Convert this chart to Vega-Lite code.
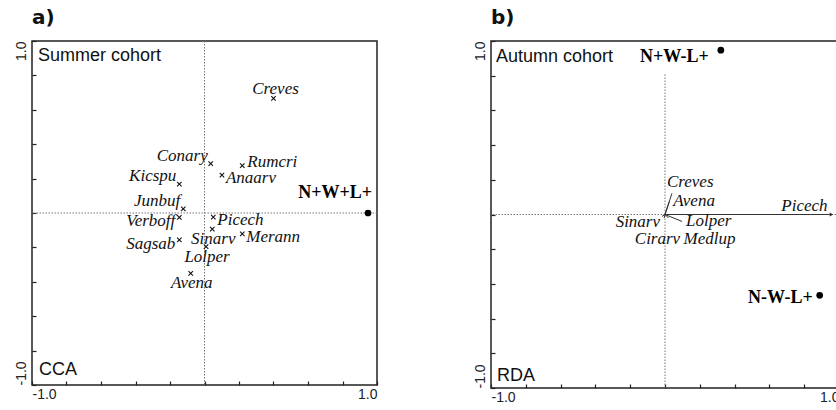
{
  "$schema": "https://vega.github.io/schema/vega-lite/v6.json",
  "background": "white",
  "padding": {"left": 13, "top": 7, "right": 0, "bottom": 0},
  "spacing": 93,
  "config": {
    "view": {"stroke": "#222", "strokeWidth": 1.5},
    "axis": {
      "grid": false, "domain": false, "title": null,
      "values": [-1, -0.5, 0, 0.5, 1],
      "labelExpr": "datum.value == 1 ? '1.0' : (datum.value == -1 ? '-1.0' : '')",
      "tickSize": -4, "tickColor": "#222", "tickWidth": 1.2,
      "labelFont": "Liberation Sans", "labelFontSize": 14, "labelColor": "#222",
      "labelOverlap": false
    },
    "axisX": {"labelFlush": true, "labelPadding": 6},
    "axisY": {
      "labelAngle": -90, "labelPadding": 8, "labelBaseline": "bottom",
      "labelAlign": {"condition": {"test": "datum.value > 0", "value": "right"}, "value": "left"}
    },
    "title": {"anchor": "start", "frame": "group", "font": "DejaVu Sans", "fontSize": 20, "fontWeight": "bold", "offset": 12, "color": "#111"}
  },
  "datasets": {
    "a": [
      {"name": "Creves", "x": 0.40, "y": 0.666, "type": "species"},
      {"name": "Conary", "x": 0.036, "y": 0.287, "type": "species"},
      {"name": "Rumcri", "x": 0.219, "y": 0.275, "type": "species"},
      {"name": "Anaarv", "x": 0.101, "y": 0.220, "type": "species"},
      {"name": "Kicspu", "x": -0.146, "y": 0.168, "type": "species"},
      {"name": "Junbuf", "x": -0.123, "y": 0.024, "type": "species"},
      {"name": "Verboff", "x": -0.146, "y": -0.026, "type": "species"},
      {"name": "Picech", "x": 0.051, "y": -0.024, "type": "species"},
      {"name": "Sinarv", "x": 0.045, "y": -0.094, "type": "species"},
      {"name": "Merann", "x": 0.219, "y": -0.121, "type": "species"},
      {"name": "Sagsab", "x": -0.146, "y": -0.156, "type": "species"},
      {"name": "Lolper", "x": 0.009, "y": -0.195, "type": "species"},
      {"name": "Avena", "x": -0.080, "y": -0.351, "type": "species"},
      {"name": "N+W+L+", "x": 0.948, "y": 0.0, "type": "env"}
    ],
    "b": [
      {"name": "Picech", "x": 0.957, "y": 0.0, "type": "species"},
      {"name": "Creves", "x": 0.040, "y": 0.122, "type": "species"},
      {"name": "Avena", "x": 0.025, "y": 0.075, "type": "species"},
      {"name": "Lolper", "x": 0.098, "y": -0.040, "type": "species"},
      {"name": "Sinarv", "x": -0.017, "y": -0.011, "type": "species"},
      {"name": "Cirarv", "x": -0.005, "y": -0.020, "type": "species"},
      {"name": "Medlup", "x": 0.020, "y": -0.020, "type": "species"},
      {"name": "N+W-L+", "x": 0.321, "y": 0.947, "type": "env"},
      {"name": "N-W-L+", "x": 0.889, "y": -0.466, "type": "env"}
    ]
  },
  "hconcat": [
    {
      "width": 345, "height": 344,
      "title": {"text": "a)"},
      "layer": [
        {"data": {"values": [{}]}, "mark": {"type": "rule", "color": "#777", "strokeDash": [1.5, 1.5], "strokeWidth": 1},
         "encoding": {"y": {"datum": 0, "type": "quantitative", "scale": {"domain": [-1, 1], "nice": false, "zero": false}}}},
        {"data": {"values": [{}]}, "mark": {"type": "rule", "color": "#777", "strokeDash": [1.5, 1.5], "strokeWidth": 1},
         "encoding": {"x": {"datum": 0, "type": "quantitative", "scale": {"domain": [-1, 1], "nice": false, "zero": false}}}},
        {"data": {"name": "a"},
         "encoding": {
           "x": {"field": "x", "type": "quantitative", "scale": {"domain": [-1, 1], "nice": false, "zero": false}},
           "y": {"field": "y", "type": "quantitative", "scale": {"domain": [-1, 1], "nice": false, "zero": false}},
           "text": {"field": "name"}
         },
         "layer": [
          {"transform": [{"filter": "datum.type == 'species'"}],
           "mark": {"type": "point", "shape": "M-1,-1L1,1M-1,1L1,-1", "size": 20, "filled": false, "strokeWidth": 1.1, "color": "#111", "opacity": 1}},
          {"transform": [{"filter": "datum.type == 'env'"}],
           "mark": {"type": "point", "shape": "circle", "size": 45, "filled": true, "color": "#000", "opacity": 1}},
          {"transform": [{"filter": {"field": "name", "oneOf": ["N+W+L+"]}}],
           "mark": {"type": "text", "font": "Liberation Serif", "fontWeight": "bold", "fontSize": 18, "align": "right", "baseline": "alphabetic", "dx": 4, "dy": -15, "color": "#000"}},
          {"transform": [{"filter": {"field": "name", "oneOf": ["Creves"]}}],
           "mark": {"type": "text", "font": "Liberation Serif", "fontStyle": "italic", "fontSize": 17, "align": "center", "baseline": "alphabetic", "dx": 2, "dy": -4, "color": "#111"}},
          {"transform": [{"filter": {"field": "name", "oneOf": ["Conary", "Kicspu", "Junbuf"]}}],
           "mark": {"type": "text", "font": "Liberation Serif", "fontStyle": "italic", "fontSize": 17, "align": "right", "baseline": "alphabetic", "dx": -3, "dy": -3, "color": "#111"}},
          {"transform": [{"filter": {"field": "name", "oneOf": ["Verboff", "Sagsab"]}}],
           "mark": {"type": "text", "font": "Liberation Serif", "fontStyle": "italic", "fontSize": 17, "align": "right", "baseline": "alphabetic", "dx": -4, "dy": 9, "color": "#111"}},
          {"transform": [{"filter": {"field": "name", "oneOf": ["Sinarv", "Lolper", "Avena"]}}],
           "mark": {"type": "text", "font": "Liberation Serif", "fontStyle": "italic", "fontSize": 17, "align": "center", "baseline": "alphabetic", "dx": 1, "dy": 15, "color": "#111"}},
          {"transform": [{"filter": {"field": "name", "oneOf": ["Picech", "Merann", "Anaarv"]}}],
           "mark": {"type": "text", "font": "Liberation Serif", "fontStyle": "italic", "fontSize": 17, "align": "left", "baseline": "alphabetic", "dx": 4, "dy": 8, "color": "#111"}},
          {"transform": [{"filter": {"field": "name", "oneOf": ["Rumcri"]}}],
           "mark": {"type": "text", "font": "Liberation Serif", "fontStyle": "italic", "fontSize": 17, "align": "left", "baseline": "alphabetic", "dx": 5, "dy": 1, "color": "#111"}}
         ]
        },
        {"data": {"values": [{"t": "Summer cohort"}]},
         "mark": {"type": "text", "font": "Liberation Sans", "fontSize": 18, "align": "left", "baseline": "alphabetic", "dx": 6, "dy": 20, "color": "#111"},
         "encoding": {"x": {"datum": -1, "type": "quantitative"}, "y": {"datum": 1, "type": "quantitative"}, "text": {"field": "t"}}},
        {"data": {"values": [{"t": "CCA"}]},
         "mark": {"type": "text", "font": "Liberation Sans", "fontSize": 18, "align": "left", "baseline": "alphabetic", "dx": 7, "dy": -10, "color": "#111"},
         "encoding": {"x": {"datum": -1, "type": "quantitative"}, "y": {"datum": -1, "type": "quantitative"}, "text": {"field": "t"}}}
      ]
    },
    {
      "width": 348, "height": 347,
      "title": {"text": "b)"},
      "layer": [
        {"data": {"values": [{}]}, "mark": {"type": "rule", "color": "#777", "strokeDash": [1.5, 1.5], "strokeWidth": 1},
         "encoding": {"y": {"datum": 0, "type": "quantitative", "scale": {"domain": [-1, 1], "nice": false, "zero": false}}}},
        {"data": {"values": [{}]}, "mark": {"type": "rule", "color": "#777", "strokeDash": [1.5, 1.5], "strokeWidth": 1},
         "encoding": {"x": {"datum": 0, "type": "quantitative", "scale": {"domain": [-1, 1], "nice": false, "zero": false}}, "y": {"datum": -1, "type": "quantitative"}, "y2": {"datum": 0.81}}},
        {"data": {"name": "b"},
         "encoding": {
           "x": {"field": "x", "type": "quantitative", "scale": {"domain": [-1, 1], "nice": false, "zero": false}},
           "y": {"field": "y", "type": "quantitative", "scale": {"domain": [-1, 1], "nice": false, "zero": false}},
           "text": {"field": "name"}
         },
         "layer": [
          {"transform": [{"filter": "datum.type == 'species'"}],
           "mark": {"type": "rule", "color": "#333", "strokeWidth": 1},
           "encoding": {"x": {"datum": 0, "type": "quantitative"}, "y": {"datum": 0, "type": "quantitative"}, "x2": {"field": "x"}, "y2": {"field": "y"}, "text": null}},
          {"transform": [{"filter": {"field": "name", "oneOf": ["Picech"]}}],
           "mark": {"type": "point", "shape": "triangle-right", "size": 18, "filled": true, "color": "#333", "opacity": 1}},
          {"transform": [{"filter": "datum.type == 'env'"}],
           "mark": {"type": "point", "shape": "circle", "size": 45, "filled": true, "color": "#000", "opacity": 1}},
          {"transform": [{"filter": {"field": "name", "oneOf": ["N+W-L+"]}}],
           "mark": {"type": "text", "font": "Liberation Serif", "fontWeight": "bold", "fontSize": 18, "align": "right", "baseline": "alphabetic", "dx": -12, "dy": 12, "color": "#000"}},
          {"transform": [{"filter": {"field": "name", "oneOf": ["N-W-L+"]}}],
           "mark": {"type": "text", "font": "Liberation Serif", "fontWeight": "bold", "fontSize": 18, "align": "right", "baseline": "alphabetic", "dx": -7, "dy": 8, "color": "#000"}},
          {"transform": [{"filter": {"field": "name", "oneOf": ["Picech"]}}],
           "mark": {"type": "text", "font": "Liberation Serif", "fontStyle": "italic", "fontSize": 17, "align": "right", "baseline": "alphabetic", "dx": -4, "dy": -4, "color": "#111"}},
          {"transform": [{"filter": {"field": "name", "oneOf": ["Creves"]}}],
           "mark": {"type": "text", "font": "Liberation Serif", "fontStyle": "italic", "fontSize": 17, "align": "left", "baseline": "alphabetic", "dx": -5, "dy": -6, "color": "#111"}},
          {"transform": [{"filter": {"field": "name", "oneOf": ["Avena", "Lolper"]}}],
           "mark": {"type": "text", "font": "Liberation Serif", "fontStyle": "italic", "fontSize": 17, "align": "left", "baseline": "alphabetic", "dx": 4, "dy": 5, "color": "#111"}},
          {"transform": [{"filter": {"field": "name", "oneOf": ["Sinarv"]}}],
           "mark": {"type": "text", "font": "Liberation Serif", "fontStyle": "italic", "fontSize": 17, "align": "right", "baseline": "alphabetic", "dx": -2, "dy": 11, "color": "#111"}},
          {"transform": [{"filter": {"field": "name", "oneOf": ["Cirarv"]}}],
           "mark": {"type": "text", "font": "Liberation Serif", "fontStyle": "italic", "fontSize": 17, "align": "right", "baseline": "alphabetic", "dx": 16, "dy": 26, "color": "#111"}},
          {"transform": [{"filter": {"field": "name", "oneOf": ["Medlup"]}}],
           "mark": {"type": "text", "font": "Liberation Serif", "fontStyle": "italic", "fontSize": 17, "align": "left", "baseline": "alphabetic", "dx": 15, "dy": 26, "color": "#111"}}
         ]
        },
        {"data": {"values": [{"t": "Autumn cohort"}]},
         "mark": {"type": "text", "font": "Liberation Sans", "fontSize": 18, "align": "left", "baseline": "alphabetic", "dx": 5, "dy": 21, "color": "#111"},
         "encoding": {"x": {"datum": -1, "type": "quantitative"}, "y": {"datum": 1, "type": "quantitative"}, "text": {"field": "t"}}},
        {"data": {"values": [{"t": "RDA"}]},
         "mark": {"type": "text", "font": "Liberation Sans", "fontSize": 18, "align": "left", "baseline": "alphabetic", "dx": 6, "dy": -7, "color": "#111"},
         "encoding": {"x": {"datum": -1, "type": "quantitative"}, "y": {"datum": -1, "type": "quantitative"}, "text": {"field": "t"}}}
      ]
    }
  ]
}
